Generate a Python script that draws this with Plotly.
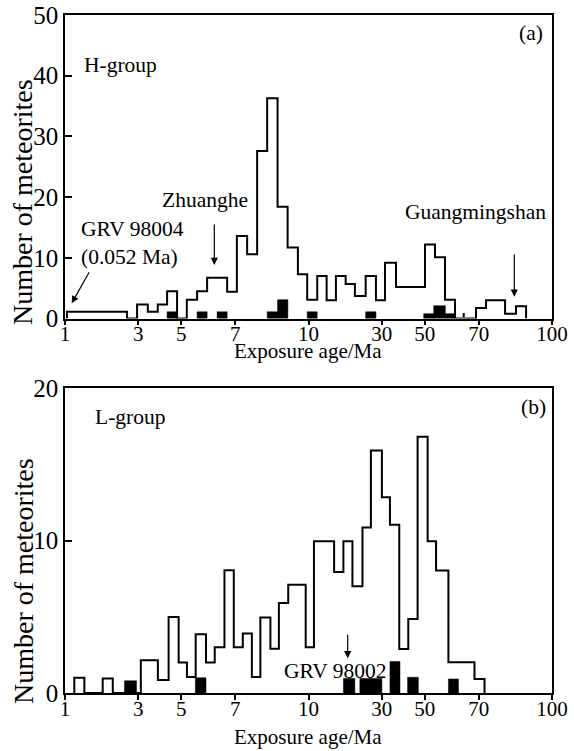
import plotly.graph_objects as go

# ---------------- data ----------------
TICK_VALS = [1, 2, 3, 5, 10, 20, 30, 50, 100]
TICK_TEXT = ["1", "3", "5", "7", "10", "30", "50", "70", "100"]

# H-group: outline histogram (bin edges in Ma, counts)
H_edges = [1.019, 1.798, 1.977, 2.188, 2.404, 2.626, 2.886, 3.164, 3.487, 3.834,
           4.633, 5.080, 5.598, 6.153, 6.765, 7.464, 8.207, 9.046, 9.878, 10.86,
           11.87, 12.96, 14.21, 15.51, 17.17, 18.92, 20.61, 22.87, 30.09, 33.07,
           36.36, 39.97, 48.75, 53.60, 64.16, 71.17, 78.26]
H_counts = [1.1, 0, 2.3, 1.1, 2.3, 4.5, 0, 3.1, 4.5, 6.7, 4.4, 13.6, 10.6, 27.6,
            36.3, 18.4, 11.7, 7.3, 3.1, 7.0, 3.0, 7.0, 5.7, 3.7, 7.0, 3.0, 9.2,
            5.2, 12.2, 10.1, 3.1, 0, 1.75, 3.0, 0.8, 2.0]
# H-group: filled (black) bars
H_black_left = [2.626, 3.487, 4.214, 6.765, 7.464, 9.878, 17.17, 29.72, 32.67, 36.46]
H_black_right = [2.886, 3.834, 4.633, 7.464, 8.229, 10.86, 18.92, 32.67, 36.46, 39.97]
H_black_counts = [1.1, 1.1, 1.1, 1.1, 3.1, 1.1, 1.1, 0.8, 2.1, 0.8]
H_mark_age = 43.4
H_mark_range = [0.2, 0.9]

# L-group
L_edges = [1.092, 1.201, 1.428, 1.571, 2.048, 2.407, 2.664, 2.929, 3.168, 3.441,
           3.794, 4.120, 4.517, 4.934, 5.373, 5.853, 6.343, 6.975, 7.557, 8.256,
           9.739, 10.53, 12.74, 13.91, 15.15, 16.66, 18.04, 20.02, 21.60, 23.59,
           25.69, 28.06, 30.85, 33.41, 37.55, 48.05, 52.83]
L_counts = [1.0, 0, 0.95, 0, 2.14, 0.85, 4.98, 2.0, 1.05, 3.85, 2.0, 3.0, 8.05,
            3.0, 3.9, 1.05, 4.95, 2.9, 5.9, 7.1, 3.0, 9.95, 7.93, 9.95, 7.0,
            10.86, 15.9, 12.83, 11.04, 2.89, 4.85, 16.8, 9.95, 8.04, 2.01, 0.92]
L_black_left = [1.755, 3.431, 13.91, 16.25, 21.60, 25.52, 37.55]
L_black_right = [1.966, 3.794, 15.50, 20.02, 23.75, 28.25, 41.29]
L_black_counts = [0.8, 1.0, 0.95, 0.95, 2.07, 1.03, 0.92]

# ---------------- helpers ----------------
W, H = 574, 751
ML, MR, MT, MB = 65, 22, 15, 58
PW = W - ML - MR
PH = H - MT - MB


def px(xp):
    return (xp - ML) / PW


def py(yp):
    return (H - MB - yp) / PH


def step(edges, counts):
    xs, ys = [edges[0]], [0]
    for i, c in enumerate(counts):
        xs += [edges[i], edges[i + 1]]
        ys += [c, c]
    xs.append(edges[-1])
    ys.append(0)
    return xs, ys


def rects(lefts, rights, hs):
    xs, ys = [], []
    for l, r, h in zip(lefts, rights, hs):
        xs += [l, r, r, l, l, None]
        ys += [0, 0, h, h, 0, None]
    return xs, ys


FONT = "Liberation Serif, Times New Roman, serif"

fig = go.Figure()

# panel a
x, y = step(H_edges, H_counts)
fig.add_trace(go.Scatter(x=x, y=y, mode="lines", line=dict(color="black", width=2),
                         xaxis="x", yaxis="y", hoverinfo="skip", cliponaxis=False))
x, y = rects(H_black_left, H_black_right, H_black_counts)
fig.add_trace(go.Scatter(x=x, y=y, mode="lines", fill="toself", fillcolor="black",
                         line=dict(color="black", width=0.5), xaxis="x", yaxis="y",
                         hoverinfo="skip"))
fig.add_trace(go.Scatter(x=[H_mark_age, H_mark_age], y=H_mark_range, mode="lines",
                         line=dict(color="black", width=2), xaxis="x", yaxis="y",
                         hoverinfo="skip"))

# panel b
x, y = step(L_edges, L_counts)
fig.add_trace(go.Scatter(x=x, y=y, mode="lines", line=dict(color="black", width=2),
                         xaxis="x2", yaxis="y2", hoverinfo="skip", cliponaxis=False))
x, y = rects(L_black_left, L_black_right, L_black_counts)
fig.add_trace(go.Scatter(x=x, y=y, mode="lines", fill="toself", fillcolor="black",
                         line=dict(color="black", width=0.5), xaxis="x2", yaxis="y2",
                         hoverinfo="skip"))

xa = dict(type="log", range=[0, 2], tickvals=TICK_VALS, ticktext=TICK_TEXT,
          ticks="outside", ticklen=5, tickwidth=1.5, tickcolor="black",
          showline=True, linecolor="black", linewidth=1.5, mirror=True,
          showgrid=False, zeroline=False, automargin=False,
          ticklabelstandoff=-9,
          tickfont=dict(family=FONT, size=21, color="black"))
ya = dict(ticks="inside", ticklen=7, tickwidth=1.5, tickcolor="black",
          showline=True, linecolor="black", linewidth=1.5, mirror=True,
          showgrid=False, zeroline=False, dtick=10, automargin=False,
          tickfont=dict(family=FONT, size=25, color="black"))

fig.update_layout(
    width=W, height=H,
    margin=dict(l=ML, r=MR, t=MT, b=MB, autoexpand=False),
    paper_bgcolor="white", plot_bgcolor="white",
    showlegend=False,
    xaxis=dict(xa, anchor="y", domain=[0, 1]),
    yaxis=dict(ya, anchor="x", domain=[py(318.5), 1], range=[0, 50]),
    xaxis2=dict(xa, anchor="y2", domain=[0, 1]),
    yaxis2=dict(ya, anchor="x2", domain=[0, py(388)], range=[0, 20]),
)

ann = []


def text(t, xp, yp, size=21.5, xanchor="center", angle=0, align="center"):
    ann.append(dict(text=t, x=px(xp), y=py(yp), xref="paper", yref="paper",
                    xanchor=xanchor, yanchor="middle", showarrow=False,
                    textangle=angle, align=align,
                    font=dict(family=FONT, size=size, color="black")))


def arrow(hx, hy, tx, ty):
    ann.append(dict(text="", x=px(hx), y=py(hy), xref="paper", yref="paper",
                    ax=tx - hx, ay=ty - hy, showarrow=True, arrowhead=2,
                    arrowsize=1.2, arrowwidth=1.2, arrowcolor="black"))


# panel a texts
text("(a)", 531, 33)
text("H-group", 82, 65, xanchor="left")
text("Zhuanghe", 205, 200)
text("GRV 98004<br>(0.052 Ma)", 79, 243.5, xanchor="left", align="left")
text("Guangmingshan", 475, 211.7)
arrow(214.3, 265, 214.3, 223)
arrow(71.7, 303.3, 90, 270.7)
arrow(514.3, 296.7, 514.3, 253)
text("Exposure age/Ma", 308, 351, size=21)
text("Number of meteorites", 23, 202, size=28, angle=-90)

# panel b texts
text("(b)", 533, 407)
text("L-group", 93, 416.7, xanchor="left")
text("GRV 98002", 335, 671)
arrow(347.7, 658.3, 347.7, 633.3)
text("Exposure age/Ma", 308, 737, size=21)
text("Number of meteorites", 23, 581, size=28, angle=-90)

fig.update_layout(annotations=ann)

fig.write_html("out.html", config={"displayModeBar": False},
               post_script="document.body.style.margin='0';document.body.style.padding='0';")
